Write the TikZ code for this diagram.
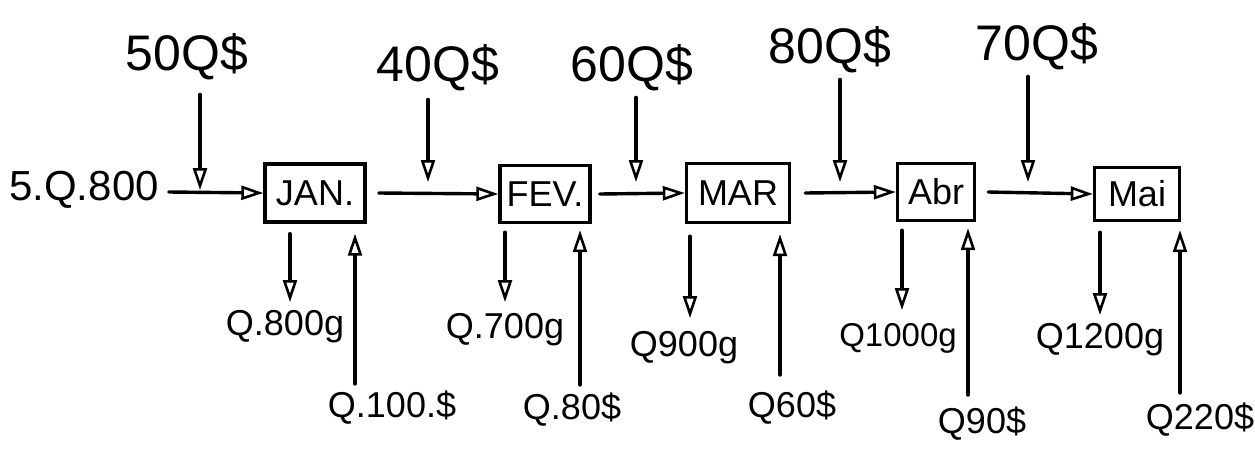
\documentclass[tikz,border=0pt]{standalone}
\usepackage{fontspec}
\setmainfont{Liberation Sans}
\usetikzlibrary{arrows.meta}
\begin{document}
\begin{tikzpicture}[x=1pt,y=-1pt,
  lw/.style={line width=3.4pt,line cap=round},
  arr/.style={lw,-{Triangle[open,length=22pt,width=14pt,line width=2.6pt]}},
  mbox/.style={draw,line width=3.4pt,inner sep=0pt,font=\fontsize{36}{36}\selectfont},
  toplab/.style={inner sep=0pt,font=\fontsize{50}{50}\selectfont},
  botlab/.style={inner sep=0pt,font=\fontsize{36}{36}\selectfont}]
\useasboundingbox (0,0) rectangle (1255,472);
\fill[white] (0,0) rectangle (1255,472);
% boxes
\node[mbox,minimum width=100pt,minimum height=58pt] (jan) at (315,193) {JAN.};
\node[mbox,minimum width=90pt,minimum height=57pt] (fev) at (545,194) {FEV.};
\node[mbox,minimum width=103pt,minimum height=59pt] (mar) at (738,193) {MAR};
\node[mbox,minimum width=77pt,minimum height=57pt] (abr) at (936,192) {Abr};
\node[mbox,minimum width=85pt,minimum height=53pt] (mai) at (1137,194) {Mai};
% start
\node[toplab,font=\fontsize{42}{42}\selectfont] (start) at (84,190) {5.Q.800};
% top labels
\node[toplab] (t1) at (187,57) {50Q\$};
\node[toplab] (t2) at (438,68) {40Q\$};
\node[toplab] (t3) at (632,68) {60Q\$};
\node[toplab] (t4) at (830,50) {80Q\$};
\node[toplab] (t5) at (1037,47) {70Q\$};
% horizontal flow
\draw[arr] (start.east) ++(10,2) coordinate (s0) -- (jan.west);
\draw[arr] ([xshift=12pt]jan.east) -- (fev.west);
\draw[arr] ([xshift=8pt]fev.east) -- (mar.west);
\draw[arr] ([xshift=14pt]mar.east) -- (abr.west);
\draw[arr] ([xshift=12pt]abr.east) -- (mai.west);
% top inflows
\coordinate (i1) at (200,190);
\coordinate (i2) at (428,182);
\coordinate (i3) at (636,182);
\coordinate (i4) at (840,182);
\coordinate (i5) at (1028,182);
\draw[arr] ([yshift=-14pt]t1.south -| i1) -- (i1);
\draw[arr] ([yshift=-8pt]t2.south -| i2) -- (i2);
\draw[arr] ([yshift=-6pt]t3.south -| i3) -- (i3);
\draw[arr] ([yshift=-6pt]t4.south -| i4) -- (i4);
\draw[arr] ([yshift=-6pt]t5.south -| i5) -- (i5);
% bottom labels
\node[botlab] (d1) at (285,327) {Q.800g};
\node[botlab] (u1) at (392,408) {Q.100.\$};
\node[botlab] (d2) at (505,330) {Q.700g};
\node[botlab] (u2) at (572,410) {Q.80\$};
\node[botlab] (d3) at (684,348) {Q900g};
\node[botlab] (u3) at (792,408) {Q60\$};
\node[botlab,font=\fontsize{33}{33}\selectfont] (d4) at (898,338) {Q1000g};
\node[botlab] (u4) at (982,424) {Q90\$};
\node[botlab] (d5) at (1100,340) {Q1200g};
\node[botlab] (u5) at (1200,420) {Q220\$};
% bottom outflows (down) and inflows (up)
\coordinate (o1) at (290,302);
\coordinate (o2) at (505,302);
\coordinate (o3) at (690,318);
\coordinate (o4) at (902,310);
\coordinate (o5) at (1100,315);
\draw[arr] ([yshift=-10pt]jan.south -| o1) -- (o1);
\draw[arr] ([yshift=-8pt]fev.south -| o2) -- (o2);
\draw[arr] ([yshift=-12pt]mar.south -| o3) -- (o3);
\draw[arr] ([yshift=-8pt]abr.south -| o4) -- (o4);
\draw[arr] ([yshift=-10pt]mai.south -| o5) -- (o5);
\coordinate (r1) at (355,384);
\coordinate (r2) at (580,385);
\coordinate (r3) at (780,375);
\coordinate (r4) at (968,395);
\coordinate (r5) at (1180,393);
\draw[arr] (r1) -- ([yshift=-10pt]jan.south -| r1);
\draw[arr] (r2) -- ([yshift=-6pt]fev.south -| r2);
\draw[arr] (r3) -- ([yshift=-10pt]mar.south -| r3);
\draw[arr] (r4) -- ([yshift=-6pt]abr.south -| r4);
\draw[arr] (r5) -- ([yshift=-8pt]mai.south -| r5);
\end{tikzpicture}
\end{document}
